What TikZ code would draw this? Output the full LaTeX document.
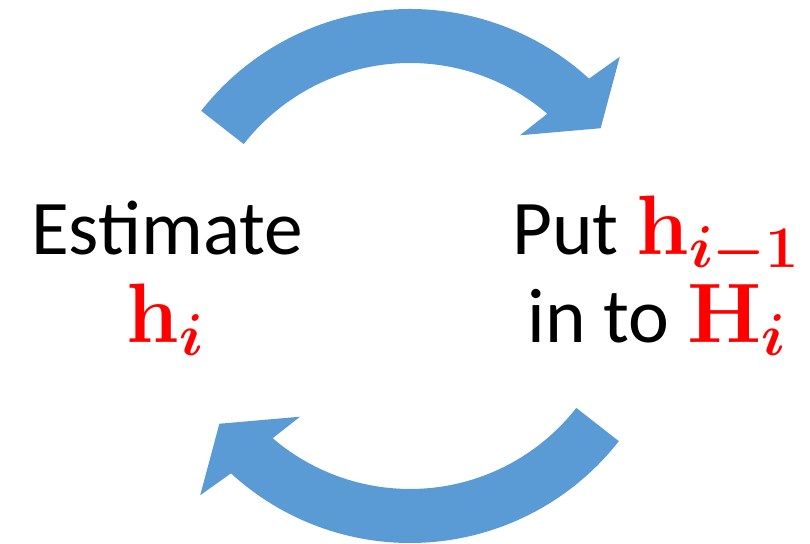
\RequirePackage{fix-cm}
\documentclass[tikz,border=0pt]{standalone}
\usepackage[no-math]{fontspec}
\setmainfont{Carlito}
\usepackage{amsmath}
\usetikzlibrary{calc}
\definecolor{CycleBlue}{RGB}{91,155,213}
\definecolor{MathRed}{RGB}{255,0,0}
\newcommand{\redvec}[1]{\textcolor{MathRed}{\fontsize{60}{66}\selectfont\boldmath$#1$}}

\begin{document}
\begin{tikzpicture}[x=0.025cm, y=0.025cm,
	lbl/.style={anchor=base, inner sep=0pt, font=\fontsize{55}{66}\selectfont},
	curl/.style={fill=CycleBlue, draw=none}]

	\useasboundingbox (0,0) rectangle (810,544);
	\coordinate (ct) at (410,270);
	\coordinate (cb) at (410,266);

	% upper arrow, left to right
	\fill[curl] ($(ct)+(142:265)$) arc[start angle=142, end angle=47.5, radius=265]
		-- ($(ct)+(46:302)$) -- ($(ct)+(37.4:240)$) -- ($(ct)+(51.6:177)$)
		-- ($(ct)+(49.4:211)$) arc[start angle=49.4, end angle=142, radius=211] -- cycle;
	% lower arrow, right to left
	\fill[curl] ($(cb)+(-38:265)$) arc[start angle=-38, end angle=-132.5, radius=265]
		-- ($(cb)+(-134:302)$) -- ($(cb)+(-142.6:240)$) -- ($(cb)+(-128.4:177)$)
		-- ($(cb)+(-130.6:211)$) arc[start angle=-130.6, end angle=-38, radius=211] -- cycle;

	\node[lbl] (est)  at (167,289) {Estimate};
	\node[lbl] (esth) at (165,201) {\redvec{\mathbf{h}_{i}}};
	\node[lbl] (put)  at (656,289) {Put \redvec{\mathbf{h}_{i-1}}};
	\node[lbl] (into) at (657,201) {in to \redvec{\mathbf{H}_{i}}};
\end{tikzpicture}
\end{document}
